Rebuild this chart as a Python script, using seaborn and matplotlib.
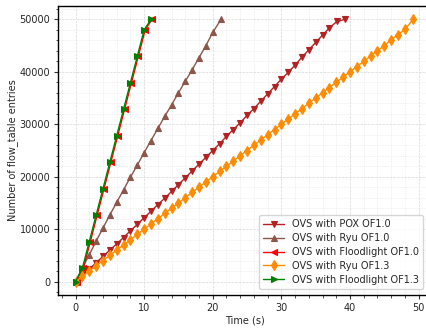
import matplotlib
matplotlib.use("Agg")
import matplotlib.pyplot as plt
import seaborn as sns
import pandas as pd
from matplotlib.ticker import AutoMinorLocator

sns.set_theme(style="ticks")
plt.rcParams['font.family'] = ['DejaVu Sans']

labels = ["OVS with POX OF1.0", "OVS with Ryu OF1.0", "OVS with Floodlight OF1.0",
          "OVS with Ryu OF1.3", "OVS with Floodlight OF1.3"]

pox_x = [0, 1, 2, 3, 4, 5, 6, 7, 8, 9, 10, 11, 12, 13, 14, 15, 16, 17, 18, 19,
         20, 21, 22, 23, 24, 25, 26, 27, 28, 29, 30, 31, 32, 33, 34, 35, 36, 37, 38.1, 39.3]
pox_y = [0, 1200, 2400, 3600, 4800, 6000, 7200, 8400, 9700, 10900, 12200, 13400,
         14700, 15900, 17200, 18500, 19800, 21100, 22400, 23700, 25000, 26300,
         27700, 29000, 30300, 31700, 33000, 34400, 35800, 37200, 38600, 39900,
         41300, 42800, 44200, 45600, 47000, 48400, 49600, 50000]

ryu10_x = [0, 1, 2, 3, 4, 5, 6, 7, 8, 9, 10, 11, 12, 13, 14, 15, 16, 17, 18, 19, 20, 21.2]
ryu10_y = [0, 2600, 5100, 7700, 10200, 12700, 15100, 17500, 19900, 22200, 24600,
           26900, 29200, 31500, 33700, 36000, 38200, 40400, 42700, 45000, 47500, 50000]

fl10_x = [0.15, 1.15, 2.15, 3.15, 4.15, 5.15, 6.15, 7.15, 8.15, 9.15, 10.15, 11.15]
fl10_y = [0, 2550, 7600, 12650, 17700, 22750, 27800, 32850, 37900, 42950, 48000, 50000]

ryu13_x = [0, 1, 2, 3, 4, 5, 6, 7, 8, 9, 10, 11, 12, 13, 14, 15, 16, 17, 18, 19,
           20, 21, 22, 23, 24, 25, 26, 27, 28, 29, 30, 31, 32, 33, 34, 35, 36, 37,
           38, 39, 40, 41, 42, 43, 44, 45, 46, 47, 48, 49.2]
ryu13_y = [0, 1000, 2000, 3000, 4000, 5000, 6000, 7000, 8000, 9000, 10000, 11000,
           12000, 13000, 14000, 15000, 16000, 17000, 18000, 19000, 20000, 21000,
           22000, 23000, 24000, 25000, 26000, 27000, 28000, 29000, 30000, 31000,
           32000, 33000, 34000, 35000, 36000, 37000, 38000, 39000, 40000, 41000,
           42000, 43000, 44000, 45000, 46100, 47100, 48100, 50000]

fl13_x = [0, 1, 2, 3, 4, 5, 6, 7, 8, 9, 10, 11]
fl13_y = [0, 2550, 7600, 12650, 17700, 22750, 27800, 32850, 37900, 42950, 48000, 50000]

series = [
    (pox_x, pox_y, "firebrick", "v"),
    (ryu10_x, ryu10_y, "#8c564b", "^"),
    (fl10_x, fl10_y, "red", "<"),
    (ryu13_x, ryu13_y, "darkorange", "d"),
    (fl13_x, fl13_y, "green", ">"),
]

fig = plt.figure(figsize=(4.27, 3.28), dpi=100)
ax = fig.add_axes([58 / 427, 1 - 295 / 328, (431 - 58) / 427, (295 - 6) / 328])

for (xs, ys, col, mk), lab in zip(series, labels):
    df = pd.DataFrame({"x": xs, "y": ys})
    sns.lineplot(data=df, x="x", y="y", ax=ax, color=col, marker=mk, markersize=5,
                 markeredgecolor=col, markeredgewidth=0.8, linewidth=1.0, label=lab,
                 sort=False, estimator=None)

ax.set_xlim(-2.55, 51.8)
ax.set_ylim(-2550, 52550)
ax.set_xticks([0, 10, 20, 30, 40, 50])
ax.set_yticks([0, 10000, 20000, 30000, 40000, 50000])
ax.xaxis.set_minor_locator(AutoMinorLocator(5))
ax.yaxis.set_minor_locator(AutoMinorLocator(5))
ax.grid(True, which="major", linestyle="--", linewidth=0.5, color="#d8d8d8")
ax.grid(True, which="minor", linestyle="--", linewidth=0.4, color="#ebebeb")
ax.set_axisbelow(True)
ax.tick_params(axis="both", which="major", labelsize=7, length=3, width=0.8,
               color="#333333", pad=2.5)
ax.tick_params(axis="both", which="minor", length=1.8, width=0.6, color="#333333")
for s in ax.spines.values():
    s.set_color("black")
    s.set_linewidth(1.0)
ax.set_xlabel("Time (s)", fontsize=7, labelpad=2)
ax.set_ylabel("Number of flow_table entries", fontsize=7, labelpad=1)
ax.legend(loc="lower right", fontsize=7, frameon=True, framealpha=0.8,
          edgecolor="#cccccc", bbox_to_anchor=((426 - 58) / (431 - 58), 0.012),
          borderaxespad=0.3, handlelength=2.2, labelspacing=0.4)

fig.savefig("out.png", dpi=100)
